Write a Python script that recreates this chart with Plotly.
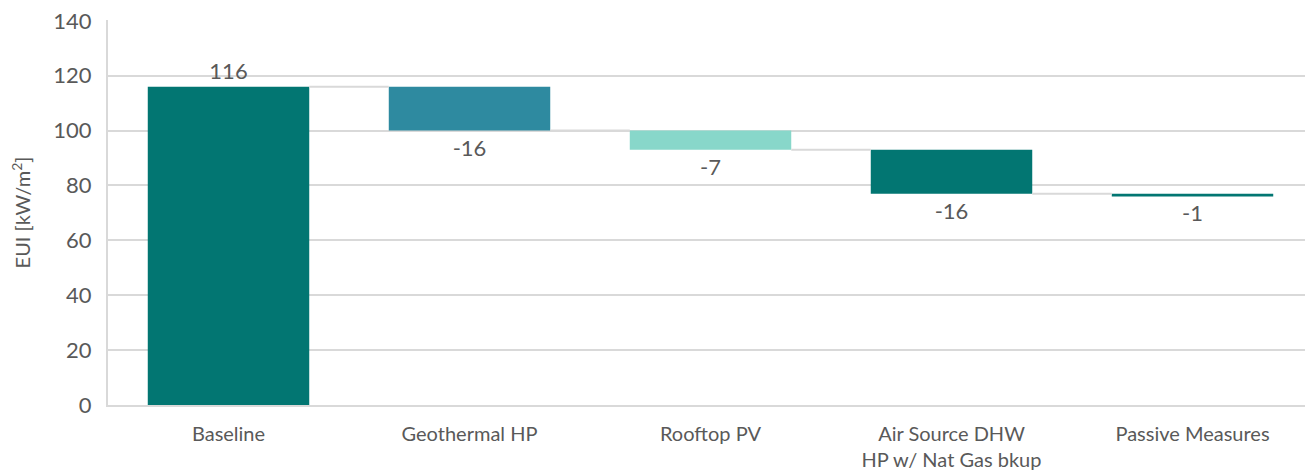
import plotly.graph_objects as go

categories = ["Baseline", "Geothermal HP", "Rooftop PV", "Air Source DHW<br>HP w/ Nat Gas bkup", "Passive Measures"]
deltas = [116, -16, -7, -16, -1]
colors = ["#027672", "#2e8aa0", "#88d7ca", "#027672", "#027672"]
labels = ["116", "-16", "-7", "-16", "-1"]
y_ticks = [0, 20, 40, 60, 80, 100, 120, 140]

bases = []
levels = []
run = 0
for i, d in enumerate(deltas):
    bases.append(0 if i == 0 else run)
    run = run + d
    levels.append(run)

xs = list(range(len(categories)))
bar_w = 0.67
font = "Lato, 'Open Sans', sans-serif"
gray = "#595959"

fig = go.Figure()
fig.add_trace(go.Bar(
    x=xs, y=deltas, base=bases, width=bar_w,
    marker=dict(color=colors, line=dict(width=0)),
    text=labels, textposition="outside", cliponaxis=False,
    textfont=dict(family=font, size=22, color=gray),
    hoverinfo="skip", showlegend=False,
))
for i in range(len(deltas) - 1):
    fig.add_trace(go.Scatter(
        x=[xs[i] + bar_w / 2, xs[i + 1] - bar_w / 2], y=[levels[i], levels[i]],
        mode="lines", line=dict(color="#d9d9d9", width=2),
        hoverinfo="skip", showlegend=False,
    ))

# page body adds an 8px margin, so the figure is sized to end at the window edges
fig.update_layout(
    width=1305, height=464,
    margin=dict(l=100, r=0, t=12, b=67),
    plot_bgcolor="white", paper_bgcolor="white",
    font=dict(family=font, color=gray),
    xaxis=dict(
        range=[-0.5, 4.5], tickvals=xs, ticktext=categories, automargin=False,
        tickfont=dict(size=20, color=gray), showgrid=False,
        showline=True, linecolor="#d9d9d9", linewidth=2,
        ticks="outside", ticklen=10, tickcolor="rgba(0,0,0,0)", zeroline=False,
    ),
    yaxis=dict(
        range=[0, 140.3], tickmode="array", tickvals=y_ticks,
        tickfont=dict(size=22, color=gray), automargin=False, ticklabeloverflow="allow",
        showgrid=True, gridcolor="#d9d9d9", gridwidth=1.5,
        showline=True, linecolor="#d9d9d9", linewidth=2, zeroline=False,
        ticks="outside", ticklen=10, tickcolor="rgba(0,0,0,0)",
        title=dict(text="EUI [kW/m<sup>2</sup>]", font=dict(size=20, color=gray), standoff=22),
    ),
)
fig.write_html("out.html")
